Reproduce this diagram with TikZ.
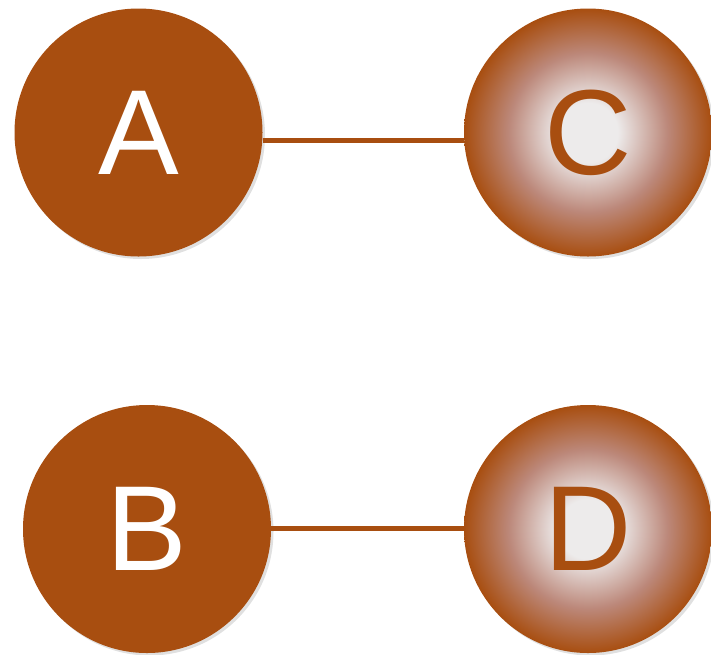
\documentclass[tikz,border=0pt]{standalone}
\usepackage{fontspec}
\setmainfont{Liberation Sans}
\usetikzlibrary{shadows}
\definecolor{rust}{RGB}{168,78,16}
\definecolor{pale}{RGB}{237,235,235}
\definecolor{mauve}{RGB}{188,136,122}
% light core fading through a mauve tone to rust at the rim
\pgfdeclareradialshading{glow}{\pgfpoint{0bp}{0bp}}{%
  color(0bp)=(pale); color(6bp)=(pale); color(16bp)=(mauve);
  color(25bp)=(rust); color(50bp)=(rust)}
\tikzset{
  ball/.style={circle, minimum size=248pt, inner sep=0pt,
    font=\fontsize{121}{121}\selectfont,
    drop shadow={shadow xshift=2.5pt, shadow yshift=-2.5pt, opacity=0.12, fill=black}},
  solid ball/.style={ball, fill=rust, text=white},
  glow ball/.style={ball, shading=glow, text=rust},
  link/.style={draw=rust, line width=5pt}
}
\begin{document}
\begin{tikzpicture}[x=1pt, y=-1pt]
  \useasboundingbox[fill=white] (0,0) rectangle (711,654);
  \node[solid ball] (A) at (138.5,132.5) {A};
  \node[glow ball]  (C) at (588,132.5) {C};
  \node[solid ball] (B) at (147,529) {B};
  \node[glow ball]  (D) at (588,529) {D};
  \draw[link] ([yshift=-7.5pt]A.east) -- ([yshift=-7.5pt]C.west);
  \draw[link] ([yshift=1pt]B.east) -- ([yshift=1pt]D.west);
\end{tikzpicture}
\end{document}
